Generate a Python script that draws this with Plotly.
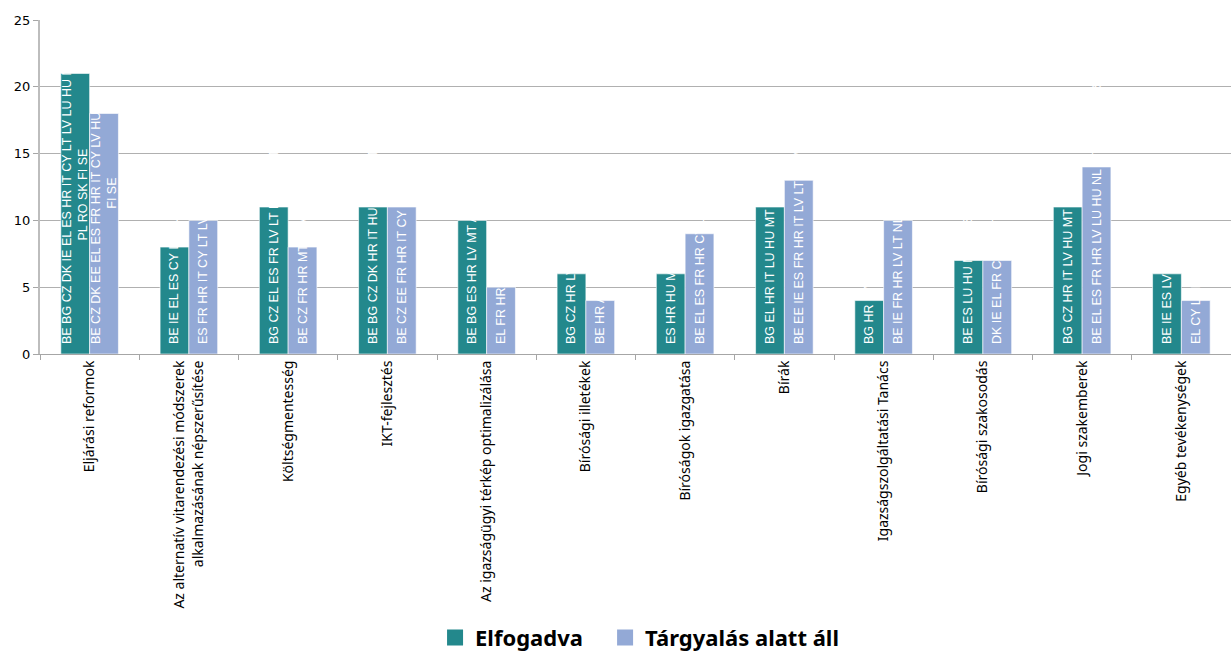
import plotly.graph_objects as go

categories = [
    "Eljárási reformok",
    "Az alternatív vitarendezési módszerek<br>alkalmazásának népszerűsítése",
    "Költségmentesség",
    "IKT-fejlesztés",
    "Az igazságügyi térkép optimalizálása",
    "Bírósági illetékek",
    "Bíróságok igazgatása",
    "Bírák",
    "Igazságszolgáltatási Tanács",
    "Bírósági szakosodás",
    "Jogi szakemberek",
    "Egyéb tevékenységek",
]

adopted = [21, 8, 11, 11, 10, 6, 6, 11, 4, 7, 11, 6]
pending = [18, 10, 8, 11, 5, 4, 9, 13, 10, 7, 14, 4]

adopted_labels = [
    "BE BG CZ DK IE EL ES HR IT CY LT LV LU HU MT NL<br>PL RO SK FI SE",
    "BE IE EL ES CY LT HU MT",
    "BG CZ EL ES FR LV LT LU HU MT PL",
    "BE BG CZ DK HR IT HU MT NL AT PL",
    "BE BG ES HR LV MT AT PT SI FI",
    "BG CZ HR LV PL RO",
    "ES HR HU MT PL SK",
    "BG EL HR IT LU HU MT NL AT PT SK",
    "BG HR LV SK",
    "BE ES LU HU MT PL SI",
    "BG CZ HR IT LV HU MT NL AT PL RO",
    "BE IE ES LV HU PT",
]

pending_labels = [
    "BE CZ DK EE EL ES FR HR IT CY LV HU MT NL AT PL<br>FI SE",
    "ES FR HR IT CY LT LV LU HU NL",
    "BE CZ FR HR MT NL AT PL",
    "BE CZ EE FR HR IT CY LV LT HU MT",
    "EL FR HR LU PT",
    "BE HR AT PL",
    "BE EL ES FR HR CY LT HU PT",
    "BE EE IE ES FR HR IT LV LT HU MT PL SK",
    "BE IE FR HR LV LT NL PL PT SK",
    "DK IE EL FR CY LV PT",
    "BE EL ES FR HR LV LU HU NL AT PL PT RO SK",
    "EL CY LT PT",
]

series_names = ["Elfogadva", "Tárgyalás alatt áll"]
colors = ["#23888c", "#93a9d6"]

PAD = "\u00a0\u00a0"
LEGEND_GAP = "\u00a0\u00a0\u00a0"

fig = go.Figure()
for i, (name, vals, labels, col) in enumerate(zip(series_names, [adopted, pending],
                                                  [adopted_labels, pending_labels], colors)):
    fig.add_trace(go.Bar(
        name=name, x=categories, y=vals, text=[PAD + t for t in labels],
        textposition="inside", insidetextanchor="start", textangle=-90,
        textfont=dict(family="Liberation Sans", size=12.5, color="white"),
        marker=dict(color=col, line=dict(color="rgba(255,255,255,0.6)", width=1)),
        cliponaxis=False, hoverinfo="skip", showlegend=False,
    ))
    # legend entries with larger square symbols
    fig.add_trace(go.Scatter(
        name=name + (LEGEND_GAP if i < len(series_names) - 1 else ""),
        x=[None], y=[None], mode="markers",
        marker=dict(symbol="square", size=17, color=col),
        showlegend=True, hoverinfo="skip",
    ))

fig.update_layout(
    width=1231, height=652,
    margin=dict(l=40, r=0, t=20, b=298),
    paper_bgcolor="white", plot_bgcolor="white",
    barmode="group", bargap=0.42, bargroupgap=0,
    uniformtext=dict(minsize=12.5, mode="show"),
    font=dict(family="Noto Sans", color="black"),
    showlegend=True,
    legend=dict(orientation="h", x=0.3317, xanchor="left",
                yref="container", y=0.022, yanchor="middle",
                font=dict(family="Noto Sans", size=22, color="black", weight="bold"),
                itemwidth=30, traceorder="normal", tracegroupgap=0),
)
fig.update_xaxes(
    tickangle=-90, tickfont=dict(size=14, family="Noto Sans"),
    showline=True, linecolor="#a6a6a6", linewidth=1,
    ticks="outside", tickson="boundaries", ticklen=5, tickcolor="#a6a6a6",
    showgrid=False,
)
fig.update_yaxes(
    range=[0, 25], dtick=5, tickfont=dict(size=13, family="DejaVu Sans"),
    showgrid=True, gridcolor="#b0b0b0", gridwidth=1,
    showline=True, linecolor="#bdbdbd", linewidth=2,
    ticks="outside", ticklen=5, tickcolor="#a6a6a6",
    zeroline=False,
)

fig.write_html("out.html")
